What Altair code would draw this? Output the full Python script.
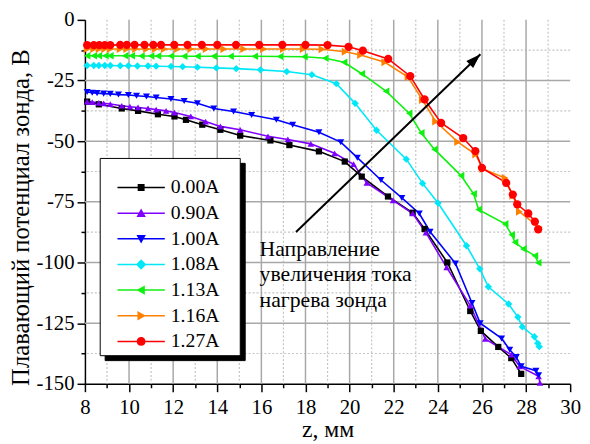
import altair as alt
import pandas as pd

series = ["0.00A", "0.90A", "1.00A", "1.08A", "1.13A", "1.16A", "1.27A"]
colors = ["#000000", "#8000FF", "#0000FF", "#00E8F8", "#10F010", "#FF8000", "#FF0000"]
shapes = ["square", "triangle-up", "triangle-down", "diamond", "triangle-left", "triangle-right", "circle"]
marker_sizes = [40, 70, 70, 75, 70, 70, 80]

z_000 = [8.1, 8.63, 9.67, 10.41, 11.31, 12.06, 12.58, 13.32, 14.14, 15.04, 16.41, 17.27, 18.61,
         19.78, 20.55, 21.74, 22.86, 23.4, 24.43, 25.47, 25.95, 26.74, 27.33, 27.78]
v_000 = [-33.7, -34.8, -36.5, -37.5, -38.9, -39.8, -41.2, -43.2, -45.3, -47.7, -49.7, -51.6, -54.2,
         -58.4, -64.6, -72.8, -79.5, -86.2, -100.0, -120.0, -128.2, -134.8, -139.4, -145.9]

z_090 = [8.1, 8.33, 8.63, 8.85, 9.15, 9.67, 10.04, 10.41, 10.86, 11.23, 11.68, 12.06, 12.8, 13.47,
         14.14, 15.04, 16.3, 17.2, 18.24, 19.32, 20.18, 20.78, 21.97, 22.86, 23.46, 24.4, 25.47,
         26.15, 27.33, 27.71, 28.57, 28.63]
v_090 = [-33.7, -33.9, -34.2, -34.4, -34.7, -35.4, -35.8, -36.1, -36.5, -37.0, -37.5, -38.2, -39.8,
         -41.9, -43.9, -45.3, -48.0, -49.3, -51.1, -55.0, -59.5, -67.2, -74.4, -79.8, -87.7, -102.0,
         -117.8, -131.5, -138.0, -142.8, -146.9, -149.6]

z_100 = [8.1, 8.33, 8.55, 8.85, 9.15, 9.52, 9.97, 10.34, 10.79, 11.23, 11.9, 12.5, 13.1, 13.84,
         14.74, 15.56, 16.68, 17.42, 18.61, 19.6, 20.35, 21.42, 22.37, 23.16, 23.65, 24.8, 25.55,
         25.92, 26.89, 27.26, 27.56, 27.78, 28.45, 28.57]
v_100 = [-29.7, -30.0, -30.2, -30.4, -30.5, -30.8, -31.0, -31.3, -31.6, -32.0, -32.6, -33.4, -34.4,
         -36.5, -37.8, -39.2, -41.2, -43.2, -46.3, -50.4, -56.8, -66.0, -73.4, -79.8, -87.3, -100.4,
         -116.7, -125.0, -131.3, -136.0, -139.0, -142.8, -144.6, -146.5]

z_108 = [8.1, 8.4, 8.63, 8.9, 9.15, 9.6, 9.97, 10.38, 10.86, 11.23, 11.9, 12.43, 13.1, 13.96, 14.86,
         15.96, 17.15, 18.29, 19.4, 20.25, 21.22, 22.57, 23.31, 24.01, 25.3, 25.9, 26.29, 27.21,
         27.63, 27.83, 28.38, 28.53, 28.6]
v_108 = [-18.8, -18.8, -18.8, -18.8, -18.8, -18.9, -18.9, -19.0, -19.0, -19.1, -19.2, -19.3, -19.5,
         -19.8, -20.1, -20.6, -21.3, -22.6, -26.3, -34.4, -45.5, -57.4, -67.4, -75.5, -93.1, -102.6,
         -110.0, -117.1, -122.5, -126.5, -130.6, -133.3, -134.7]

z_113 = [8.1, 8.4, 8.63, 8.93, 9.15, 9.82, 10.12, 10.56, 11.0, 11.31, 11.9, 12.5, 13.1, 13.84, 14.6,
         15.7, 16.85, 17.95, 18.9, 19.75, 20.55, 21.65, 22.7, 23.25, 23.85, 25.05, 25.62, 25.85,
         27.05, 27.35, 27.5, 27.88, 28.4, 28.55]
v_113 = [-14.8, -14.8, -14.8, -14.8, -14.8, -14.8, -14.8, -14.9, -14.9, -14.9, -14.9, -15.0, -15.0,
         -15.0, -15.0, -15.0, -15.1, -15.2, -15.8, -17.5, -22.2, -29.4, -38.5, -46.6, -53.4, -64.2,
         -71.7, -78.2, -84.1, -88.6, -91.7, -94.4, -97.2, -100.1]

z_116 = [8.1, 8.4, 8.65, 8.9, 9.15, 9.6, 9.9, 10.3, 10.8, 11.2, 11.6, 12.2, 12.8, 13.5, 14.3, 15.2,
         16.1, 17.0, 17.9, 18.75, 19.8, 20.5, 21.6, 22.65, 23.3, 23.9, 24.9, 25.72, 26.05, 27.05,
         27.4, 27.7, 28.6]
v_116 = [-12.0, -12.0, -12.0, -12.0, -12.0, -12.0, -12.0, -12.0, -12.0, -12.0, -12.0, -12.0, -12.0,
         -12.0, -12.0, -12.0, -12.0, -12.0, -12.0, -12.1, -13.1, -14.5, -17.5, -23.6, -33.0, -41.9,
         -50.3, -55.5, -61.5, -65.2, -72.5, -79.1, -85.5]

z_127 = [8.1, 8.4, 8.65, 8.9, 9.15, 9.6, 9.9, 10.25, 10.7, 11.1, 11.45, 12.05, 12.65, 13.3, 14.0,
         14.85, 15.9, 16.95, 18.0, 19.0, 19.95, 20.6, 21.75, 22.75, 23.4, 24.15, 25.15, 25.7, 26.0,
         27.1, 27.4, 27.6, 28.1, 28.4, 28.55]
v_127 = [-10.4, -10.4, -10.4, -10.4, -10.4, -10.3, -10.3, -10.3, -10.3, -10.3, -10.3, -10.3, -10.3,
         -10.3, -10.3, -10.3, -10.3, -10.3, -10.3, -10.4, -11.1, -12.7, -16.1, -23.2, -32.8, -42.5,
         -48.7, -54.1, -61.0, -67.2, -72.0, -76.0, -79.8, -83.2, -86.3]

all_z = [z_000, z_090, z_100, z_108, z_113, z_116, z_127]
all_v = [v_000, v_090, v_100, v_108, v_113, v_116, v_127]

note_lines = ["Направление", "увеличения тока", "нагрева зонда"]
note_z = [15.92, 15.92, 15.92]
note_v = [-94.3, -104.9, -115.4]

arrow_z = [17.57, 25.93]
arrow_v = [-87.4, -14.2]

x_ticks = list(range(8, 31))
y_ticks = [-150 + 12.5 * i for i in range(13)]
x_major_grid = [10, 12, 14, 16, 18, 20, 22, 24, 26, 28]
x_minor_grid = [9, 11, 13, 15, 17, 19, 21, 23, 25, 27, 29]
y_major_grid = [-125, -100, -75, -50, -25]
y_minor_grid = [-137.5, -112.5, -87.5, -62.5, -37.5, -12.5]

rows = []
for name, zs, vs in zip(series, all_z, all_v):
    for zz, vv in zip(zs, vs):
        rows.append({"series": name, "z": zz, "v": vv})
df = pd.DataFrame(rows)

df_note = pd.DataFrame({"z": note_z, "v": note_v, "t": note_lines})
df_arrow = pd.DataFrame({"z": arrow_z, "v": arrow_v})
df_head = df_arrow.iloc[[1]]
df_vmaj = pd.DataFrame({"z": [float(a) for a in x_major_grid]})
df_vmin = pd.DataFrame({"z": [float(a) for a in x_minor_grid]})
df_hmaj = pd.DataFrame({"v": y_major_grid})
df_hmin = pd.DataFrame({"v": y_minor_grid})

FONT = "Liberation Serif"

x_axis = alt.Axis(
    values=x_ticks,
    labelExpr="datum.value % 2 === 0 ? '' + datum.value : ''",
    labelFlush=False,
    labelOverlap=False,
    labelPadding=5,
    tickSize={"condition": {"test": "datum.value % 2 === 0", "value": 8}, "value": 4},
    grid=False,
    titleY=34,
)
y_axis = alt.Axis(
    values=y_ticks,
    labelExpr="datum.value % 25 === 0 ? '' + datum.value : ''",
    labelFlush=False,
    labelOverlap=False,
    labelPadding=3,
    tickSize={"condition": {"test": "datum.value % 25 === 0", "value": 8}, "value": 4},
    grid=False,
    titleX=-52,
    titleY=200,
    titleFontSize=25,
)

X = alt.X("z:Q", scale=alt.Scale(domain=[8, 30], nice=False, zero=False), axis=x_axis, title="z, мм")
Y = alt.Y("v:Q", scale=alt.Scale(domain=[-150, 0], nice=False, zero=False), axis=y_axis,
          title="Плавающий потенциал зонда, В")

MAJ = "#a8a8a8"
MIN = "#c4c4c4"
vmaj = alt.Chart(df_vmaj).mark_rule(color=MAJ, strokeWidth=1.5).encode(x=X)
hmaj = alt.Chart(df_hmaj).mark_rule(color=MAJ, strokeWidth=1.5).encode(y=Y)
vmin = alt.Chart(df_vmin).mark_rule(color=MIN, strokeWidth=1.2, strokeDash=[2, 2]).encode(x=X)
hmin = alt.Chart(df_hmin).mark_rule(color=MIN, strokeWidth=1.2, strokeDash=[2, 2]).encode(y=Y)

color_scale = alt.Scale(domain=series, range=colors)

lines = alt.Chart(df).mark_line(strokeWidth=1.6).encode(
    x=X, y=Y, color=alt.Color("series:N", scale=color_scale, legend=None, sort=series),
    detail="series:N",
)
points = alt.Chart(df).mark_point(filled=True, opacity=1).encode(
    x=X, y=Y,
    color=alt.Color("series:N", scale=color_scale, legend=None, sort=series),
    shape=alt.Shape("series:N", scale=alt.Scale(domain=series, range=shapes), legend=None),
    size=alt.Size("series:O", scale=alt.Scale(domain=series, range=marker_sizes), legend=None),
)

bar = "M-4.8,-0.15H4.8V0.15H-4.8Z"
reach = "M19.2,0L19.2,0"
legend_paths = [
    bar + "M-0.7,-0.7H0.7V0.7H-0.7Z" + reach,
    bar + "M0,-0.95L0.95,0.75L-0.95,0.75Z" + reach,
    bar + "M0,0.95L-0.95,-0.75L0.95,-0.75Z" + reach,
    bar + "M0,-1.05L1.05,0L0,1.05L-1.05,0Z" + reach,
    bar + "M-0.95,0L0.75,-0.95L0.75,0.95Z" + reach,
    bar + "M0.95,0L-0.75,0.95L-0.75,-0.95Z" + reach,
    bar + "M0.9,0A0.9,0.9 0 1,1 -0.9,0A0.9,0.9 0 1,1 0.9,0Z" + reach,
]
shadow_path = "M-4.8,-2H19.2V2H-4.8Z"

common = dict(
    orient="none", padding=4, titleFontSize=12, titlePadding=4,
    symbolSize=100, symbolOffset=28, labelOffset=20, symbolStrokeWidth=0,
    labelFont=FONT, labelFontSize=20, rowPadding=6,
)
leg = alt.Legend(title=" ", legendX=15, legendY=140, fillColor="white", strokeColor="black",
                 labelColor="black", zindex=2, **common)
shadow_leg = alt.Legend(title=" ", legendX=20, legendY=145, fillColor="black", strokeColor="black",
                        labelColor="black", zindex=1, labelExpr="''", **common)

legend_layer = alt.Chart(df).transform_filter("datum.z > 1000").mark_point(filled=True, opacity=1).encode(
    x=X, y=Y,
    color=alt.Color("series:N", scale=alt.Scale(domain=series, range=colors), legend=leg),
    shape=alt.Shape("series:N", scale=alt.Scale(domain=series, range=legend_paths), legend=leg),
)
shadow_layer = alt.Chart(df).transform_filter("datum.z > 1000").transform_calculate(
    s2="datum.series"
).mark_point(filled=True, opacity=1, shape=shadow_path).encode(
    x=X, y=Y,
    color=alt.Color("s2:N", scale=alt.Scale(domain=series, range=["#000000"] * 7), legend=shadow_leg),
)

note = alt.Chart(df_note).mark_text(align="left", baseline="middle", font=FONT, fontSize=22,
                                    color="black").encode(x=X, y=Y, text="t:N")

arrow_line = alt.Chart(df_arrow).mark_line(color="black", strokeWidth=2).encode(x=X, y=Y)
arrow_head = alt.Chart(df_head).mark_point(
    shape="M0,0L0.33,1L-0.33,1Z", angle=46, size=900, filled=True, color="black", opacity=1
).encode(x=X, y=Y)

chart = alt.layer(
    vmin, hmin, vmaj, hmaj, lines, points, arrow_line, arrow_head, note, shadow_layer, legend_layer
).resolve_scale(
    color="independent", shape="independent"
).properties(
    width=492, height=369,
    autosize=alt.AutoSizeParams(type="none"),
    padding={"left": 78, "top": 9, "right": 12, "bottom": 58},
    background="white",
).configure_view(stroke=None).configure_axis(
    domainColor="black", domainWidth=1.5, tickColor="black", tickWidth=1.5,
    labelFont=FONT, labelFontSize=21, labelColor="black",
    titleFont=FONT, titleFontSize=24, titleFontWeight="normal", titleColor="black",
)

chart.save("out.html", embed_options={"renderer": "svg", "actions": False})
